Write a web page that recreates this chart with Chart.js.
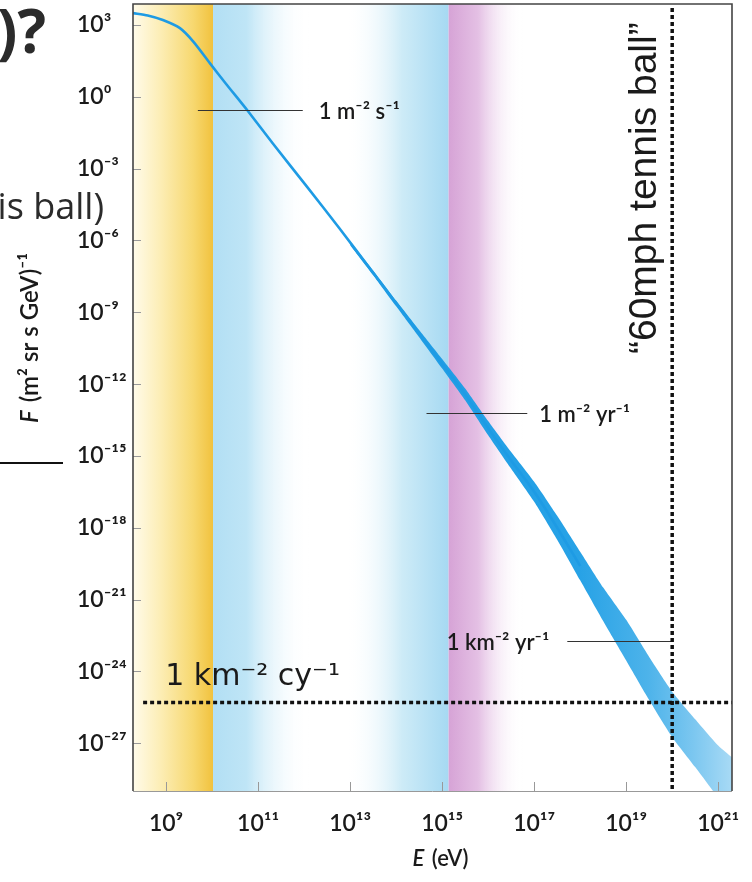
<!DOCTYPE html>
<html><head><meta charset="utf-8">
<script src="https://cdn.jsdelivr.net/npm/chart.js@4.4.1/dist/chart.umd.min.js"></script>
<style>html,body{margin:0;padding:0;background:#fff;}#wrap{width:752px;height:882px;position:relative;}canvas{display:block;}</style>
</head><body><div id="wrap"><canvas id="c" width="752" height="882" style="width:752px;height:882px"></canvas></div>
<script>
// ---- data (log10 of E in eV, log10 of F in m^-2 sr^-1 s^-1 GeV^-1) ----
const lineLogE = [8.28, 8.6, 8.93, 9.3, 9.6, 9.95, 10.3, 10.76, 11.32, 12.06, 12.77, 13.5, 14.23, 14.94, 15.5, 16.0, 16.5, 17.0, 17.5, 18.0];
const lineLogF = [3.50, 3.40, 3.21, 2.87, 2.29, 1.41, 0.55, -0.55, -1.95, -3.75, -5.50, -7.35, -9.20, -11.0, -12.43, -13.84, -15.19, -16.5, -18.0, -19.6];
const bandLogE = [13.0, 13.5, 14.0, 14.5, 15.0, 15.5, 16.0, 16.5, 17.0, 17.5, 18.0, 18.5, 19.0, 19.5, 20.0, 20.5, 21.0, 21.3];
const bandUpperLogF = [-6.04, -7.25, -8.51, -9.74, -10.95, -12.18, -13.54, -14.84, -16.08, -17.5, -19.0, -20.5, -21.85, -23.4, -24.85, -26.0, -27.1, -27.6];
const bandLowerLogF = [-6.20, -7.45, -8.75, -10.04, -11.35, -12.68, -14.14, -15.54, -16.92, -18.5, -20.2, -21.9, -23.55, -25.2, -26.75, -28.0, -29.3, -30.2];
const xTickExps = [9, 11, 13, 15, 17, 19, 21];
const yTickExps = [3, 0, -3, -6, -9, -12, -15, -18, -21, -24, -27];
const xRangeExp = [8.28, 21.3];
const yRangeExp = [-29, 3.88];
// reference levels
const rateLabels = [
  {text: '1 m\u207B\u00B2 s\u207B\u00B9', logF: -0.55, lineFrom: 9.69, lineTo: 11.97, textAt: 12.32},
  {text: '1 m\u207B\u00B2 yr\u207B\u00B9', logF: -13.21, lineFrom: 14.66, lineTo: 16.85, textAt: 17.11},
  {text: '1 km\u207B\u00B2 yr\u207B\u00B9', logF: -22.74, lineFrom: 17.72, lineTo: 19.98, textAt: 15.1}
];
const centuryLevelLogF = -25.3;
const centuryLabel = '1 km\u207B\u00B2 cy\u207B\u00B9';
const tennisBallLogE = 20.0;
const tennisBallLabel = '\u201C60mph tennis ball\u201D';
const xTitleParts = ['E', ' (eV)'];
const yTitleParts = ['F', ' (m\u00B2 sr s GeV)\u207B\u00B9'];

const SUP = {'0':'\u2070','1':'\u00B9','2':'\u00B2','3':'\u00B3','4':'\u2074','5':'\u2075','6':'\u2076','7':'\u2077','8':'\u2078','9':'\u2079','-':'\u207B'};
const pow10Label = e => '10' + String(e).split('').map(c => SUP[c]).join('');
const pts = (es, fs) => es.map((e, i) => ({x: Math.pow(10, e), y: Math.pow(10, fs[i])}));

const TICK_FONT = 'Lato, "Noto Sans", "DejaVu Sans", sans-serif';

const bands = [
  {from: 8.28, to: 10.02, stops: [[0, '#fffbea'], [0.35, '#fcedb4'], [0.75, '#f7d870'], [1, '#f1c23e']]},
  {from: 10.02, to: 12.1, stops: [[0, '#b2dff4'], [0.35, '#bfe5f6'], [1, 'rgba(255,255,255,0)']]},
  {from: 12.9, to: 15.14, stops: [[0, 'rgba(255,255,255,0)'], [0.55, '#cdebf7'], [1, '#a6d9f2']]},
  {from: 15.14, to: 16.75, stops: [[0, '#d6a3d6'], [0.4, '#e4c0e4'], [1, 'rgba(255,255,255,0)']]}
];

const bgPlugin = {
  id: 'bgBands',
  beforeDatasetsDraw(chart) {
    const {ctx, chartArea: a, scales: {x}} = chart;
    ctx.save();
    ctx.beginPath(); ctx.rect(a.left, a.top, a.width, a.height); ctx.clip();
    bands.forEach(b => {
      const x0 = x.getPixelForValue(Math.pow(10, b.from));
      const x1 = x.getPixelForValue(Math.pow(10, b.to));
      const g = ctx.createLinearGradient(x0, 0, x1, 0);
      b.stops.forEach(s => g.addColorStop(s[0], s[1]));
      ctx.fillStyle = g;
      ctx.fillRect(x0, a.top, x1 - x0, a.height);
    });
    ctx.restore();
  }
};

const drawTwoPart = (ctx, parts, size, x, y, align) => {
  ctx.font = 'italic 600 ' + size + 'px ' + TICK_FONT;
  const w0 = ctx.measureText(parts[0]).width + 2;
  ctx.font = '600 ' + size + 'px ' + TICK_FONT;
  const w1 = ctx.measureText(parts[1]).width;
  const start = align === 'center' ? x - (w0 + w1) / 2 : x;
  ctx.textAlign = 'left';
  ctx.font = 'italic 600 ' + size + 'px ' + TICK_FONT;
  ctx.fillText(parts[0], start, y);
  ctx.font = '600 ' + size + 'px ' + TICK_FONT;
  ctx.fillText(parts[1], start + w0, y);
};

const annoPlugin = {
  id: 'annos',
  afterDatasetsDraw(chart) {
    const {ctx, chartArea: a, scales: {x, y}} = chart;
    const px = e => x.getPixelForValue(Math.pow(10, e));
    const py = f => y.getPixelForValue(Math.pow(10, f));
    ctx.save();
    rateLabels.forEach(r => {
      const yy = Math.round(py(r.logF)) + 0.5;
      ctx.strokeStyle = '#333'; ctx.lineWidth = 1.2; ctx.setLineDash([]);
      ctx.beginPath(); ctx.moveTo(px(r.lineFrom), yy); ctx.lineTo(px(r.lineTo), yy); ctx.stroke();
      ctx.fillStyle = '#1a1a1a';
      ctx.font = '600 22px ' + TICK_FONT;
      ctx.textAlign = 'left'; ctx.textBaseline = 'alphabetic';
      ctx.fillText(r.text, px(r.textAt), yy + 8);
    });
    ctx.save();
    ctx.beginPath(); ctx.rect(a.left, a.top, a.width, a.height); ctx.clip();
    ctx.strokeStyle = '#111'; ctx.lineWidth = 3.5; ctx.setLineDash([4, 3]);
    const hy = py(centuryLevelLogF);
    ctx.beginPath(); ctx.moveTo(px(8.5), hy); ctx.lineTo(a.right, hy); ctx.stroke();
    const vx = px(tennisBallLogE);
    ctx.beginPath(); ctx.moveTo(vx, a.top + 4); ctx.lineTo(vx, a.bottom - 2); ctx.stroke();
    ctx.restore();
    ctx.setLineDash([]);
    ctx.fillStyle = '#1a1a1a';
    ctx.font = '30px "DejaVu Sans", sans-serif';
    ctx.textAlign = 'left'; ctx.textBaseline = 'alphabetic';
    ctx.fillText(centuryLabel, px(8.98), hy - 17);
    ctx.save();
    ctx.translate(vx - 16, 354);
    ctx.rotate(-Math.PI / 2);
    ctx.font = '39px "Liberation Sans", Arial, sans-serif';
    ctx.fillText(tennisBallLabel, 0, 0);
    ctx.restore();
    ctx.strokeStyle = '#999'; ctx.lineWidth = 1;
    yTickExps.forEach(e => { const yy = Math.round(py(e)) + 0.5; ctx.beginPath(); ctx.moveTo(a.left, yy); ctx.lineTo(a.left + 8, yy); ctx.stroke(); });
    xTickExps.forEach(e => { const xx = Math.round(px(e)) + 0.5; ctx.beginPath(); ctx.moveTo(xx, a.bottom); ctx.lineTo(xx, a.bottom - 9); ctx.stroke(); });
    ctx.strokeStyle = '#444'; ctx.lineWidth = 1.6;
    ctx.beginPath(); ctx.moveTo(a.left, a.bottom); ctx.lineTo(a.left, a.top); ctx.lineTo(a.right, a.top); ctx.lineTo(a.right, a.bottom); ctx.stroke();
    ctx.strokeStyle = '#999'; ctx.lineWidth = 1;
    ctx.beginPath(); ctx.moveTo(a.left, a.bottom + 0.5); ctx.lineTo(a.right, a.bottom + 0.5); ctx.stroke();
    ctx.restore();
  },
  afterDraw(chart) {
    const {ctx, chartArea: a} = chart;
    ctx.save();
    ctx.fillStyle = '#1a1a1a';
    ctx.textBaseline = 'alphabetic';
    // x-axis title
    drawTwoPart(ctx, xTitleParts, 22, (a.left + a.right) / 2 + 8, 866, 'center');
    // y-axis title (rotated)
    ctx.translate(38, 423);
    ctx.rotate(-Math.PI / 2);
    drawTwoPart(ctx, yTitleParts, 24, 0, 0, 'left');
    ctx.restore();
    ctx.save();
    ctx.fillStyle = '#2b2b2b';
    ctx.textBaseline = 'alphabetic'; ctx.textAlign = 'right';
    ctx.font = 'bold 60px "Open Sans", sans-serif';
    ctx.fillText(')?', 46, 53);
    ctx.font = '36px "Open Sans", sans-serif';
    ctx.fillText('is ball)', 104, 219);
    ctx.strokeStyle = '#111'; ctx.lineWidth = 2;
    ctx.beginPath(); ctx.moveTo(0, 463); ctx.lineTo(63, 463); ctx.stroke();
    ctx.restore();
  }
};

const bandGradient = (ctx) => {
  const chart = ctx.chart; const {chartArea: a, scales: {x}} = chart;
  if (!a) return '#2aa3e6';
  const g = chart.ctx.createLinearGradient(x.getPixelForValue(1e13), 0, x.getPixelForValue(Math.pow(10, 21.3)), 0);
  g.addColorStop(0, '#1e9be4'); g.addColorStop(0.6, '#27a2e6'); g.addColorStop(0.78, '#4db3ea');
  g.addColorStop(0.9, '#7cc7f0'); g.addColorStop(1, '#a8daf5');
  return g;
};

new Chart(document.getElementById('c'), {
  type: 'line',
  data: {
    datasets: [
      {label: 'flux', data: pts(lineLogE, lineLogF), borderColor: '#1e9be4', borderWidth: 2.6, pointRadius: 0, tension: 0.25, fill: false},
      {label: 'upper', data: pts(bandLogE, bandUpperLogF), borderWidth: 0, borderColor: 'rgba(0,0,0,0)', pointRadius: 0, tension: 0.2, fill: false},
      {label: 'lower', data: pts(bandLogE, bandLowerLogF), borderWidth: 0, borderColor: 'rgba(0,0,0,0)', pointRadius: 0, tension: 0.2, fill: '-1', backgroundColor: bandGradient}
    ]
  },
  options: {
    responsive: false, animation: false, devicePixelRatio: 1,
    layout: {padding: {left: 77, top: 4, right: 20, bottom: 0}},
    plugins: {legend: {display: false}, tooltip: {enabled: false}},
    scales: {
      x: {
        type: 'logarithmic', min: Math.pow(10, xRangeExp[0]), max: Math.pow(10, xRangeExp[1]),
        grid: {display: false}, border: {display: false},
        afterBuildTicks: s => { s.ticks = xTickExps.map(e => ({value: Math.pow(10, e)})); },
        afterFit: s => { s.height = 91; s.paddingLeft = 0; s.paddingRight = 0; },
        ticks: {autoSkip: false, maxRotation: 0, padding: 11, color: '#1a1a1a', font: {family: TICK_FONT, size: 23, weight: '600'},
          callback: v => pow10Label(Math.round(Math.log10(v)))},
        title: {display: false}
      },
      y: {
        type: 'logarithmic', min: Math.pow(10, yRangeExp[0]), max: Math.pow(10, yRangeExp[1]),
        grid: {display: false}, border: {display: false},
        afterBuildTicks: s => { s.ticks = yTickExps.map(e => ({value: Math.pow(10, e)})); },
        afterFit: s => { s.width = 56; s.paddingTop = 0; s.paddingBottom = 0; },
        ticks: {autoSkip: false, crossAlign: 'far', padding: 4, color: '#1a1a1a', font: {family: TICK_FONT, size: 23, weight: '600'},
          callback: v => pow10Label(Math.round(Math.log10(v)))}
      }
    }
  },
  plugins: [bgPlugin, annoPlugin]
});
</script></body></html>
